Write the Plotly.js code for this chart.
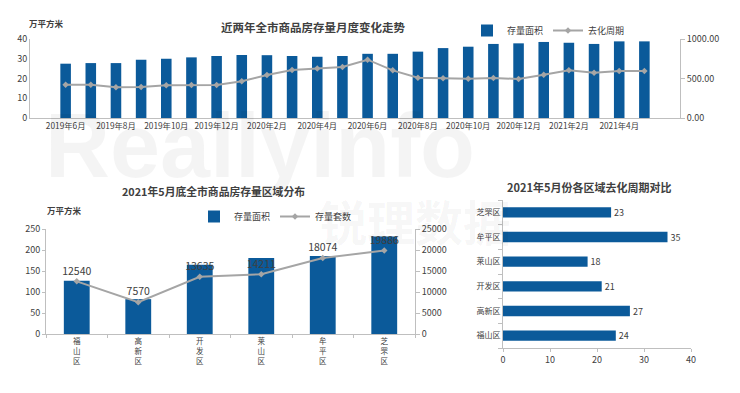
<!DOCTYPE html>
<html><head><meta charset="utf-8">
<script src="https://cdn.plot.ly/plotly-3.0.1.min.js"></script>
<style>html,body{margin:0;padding:0;background:#fff}#c{width:740px;height:393px}</style>
</head><body><div id="c"></div>
<script>
// Top chart: monthly inventory
const months = ['2019年6月','2019年7月','2019年8月','2019年9月','2019年10月','2019年11月','2019年12月',
 '2020年1月','2020年2月','2020年3月','2020年4月','2020年5月','2020年6月','2020年7月','2020年8月','2020年9月',
 '2020年10月','2020年11月','2020年12月','2021年1月','2021年2月','2021年3月','2021年4月','2021年5月'];
const stockArea = [27.5,27.8,27.8,29.5,30.0,30.7,31.4,31.9,31.8,31.4,31.0,31.4,32.5,32.5,33.6,35.4,36.1,37.5,37.8,38.5,38.1,37.5,38.8,38.8];
const destockCycle = [421,421,388,392,413,417,417,464,544,607,628,645,738,603,510,502,498,506,494,548,603,574,595,595];
const monthTicks = ['2019年6月','2019年8月','2019年10月','2019年12月','2020年2月','2020年4月','2020年6月','2020年8月','2020年10月','2020年12月','2021年2月','2021年4月'];

// Bottom-left: district distribution
const districts = ['福山区','高新区','开发区','莱山区','牟平区','芝罘区'];
const districtArea = [127,83,165,181,186,232];
const districtUnits = [12540,7570,13635,14211,18074,19886];

// Bottom-right: destock cycle by district
const cycleDistricts = ['福山区','高新区','开发区','莱山区','牟平区','芝罘区'];
const cycleValues = [24,27,21,18,35,23];

const BLUE = '#0b5a9a';
const GRAY = '#a5a5a5';
const TXT = '#404040';
const AX = '#bfbfbf';
const F = 'Noto Sans CJK SC, Liberation Sans, sans-serif';

const px = v => v/740;
const py = v => 1 - v/393;

const traces = [
 {type:'bar', x:months, y:stockArea, name:'存量面积', marker:{color:BLUE}, xaxis:'x', yaxis:'y', legend:'legend'},
 {type:'scatter', mode:'lines+markers', x:months, y:destockCycle, name:'去化周期', line:{color:GRAY,width:2},
  marker:{color:GRAY,size:5,symbol:'diamond'}, xaxis:'x', yaxis:'y2', legend:'legend'},
 {type:'bar', x:districts, y:districtArea, name:'存量面积', marker:{color:BLUE}, xaxis:'x2', yaxis:'y3', legend:'legend2'},
 {type:'scatter', mode:'lines+markers+text', x:districts, y:districtUnits, name:'存量套数', text:districtUnits.map(String),
  textposition:'top center', textfont:{size:10.5,color:TXT,family:F}, line:{color:GRAY,width:2},
  marker:{color:GRAY,size:5,symbol:'diamond'}, xaxis:'x2', yaxis:'y4', legend:'legend2', cliponaxis:false},
 {type:'bar', orientation:'h', x:cycleValues, y:cycleDistricts, name:'去化周期', marker:{color:BLUE}, text:cycleValues.map(String),
  textposition:'outside', constraintext:'none', textfont:{size:9,color:TXT,family:F}, xaxis:'x3', yaxis:'y5', showlegend:false, cliponaxis:false}
];

const tickF = {size:9,color:TXT,family:F};
const axBase = {showgrid:false, zeroline:false, showline:true, linecolor:AX, linewidth:1, tickfont:tickF, ticks:'outside', ticklen:3, tickcolor:AX, fixedrange:true};

const layout = {
 width:740, height:393, margin:{l:0,r:0,t:0,b:0}, paper_bgcolor:'#fff', plot_bgcolor:'rgba(0,0,0,0)',
 font:{family:F,color:TXT}, bargap:0.58,
 xaxis:Object.assign({}, axBase, {domain:[px(30),px(680)], anchor:'y', type:'category', tickvals:monthTicks, ticktext:monthTicks, ticks:'', tickangle:0, tickfont:{size:8.3,color:TXT,family:F}}),
 yaxis:Object.assign({}, axBase, {domain:[py(118),py(39)], anchor:'x', range:[0,40], dtick:10, ticks:''}),
 yaxis2:Object.assign({}, axBase, {overlaying:'y', side:'right', anchor:'x', range:[0,1000], dtick:500, tickformat:'.2f', ticks:'outside', ticklen:4}),
 xaxis2:Object.assign({}, axBase, {domain:[px(46),px(415)], anchor:'y3', type:'category', tickvals:districts,
   ticktext:districts.map(d=>d.split('').join('<br>')), tickfont:{size:7.5,color:TXT,family:F}, ticks:'outside', tickson:'boundaries', tickangle:0}),
 yaxis3:Object.assign({}, axBase, {domain:[py(334),py(229)], anchor:'x2', range:[0,250], dtick:50, ticks:'outside', ticklen:3}),
 yaxis4:Object.assign({}, axBase, {overlaying:'y3', side:'right', anchor:'x2', range:[0,25000], dtick:5000, tickformat:'d', ticks:'outside', ticklen:4}),
 xaxis3:Object.assign({}, axBase, {domain:[px(503),px(691)], anchor:'y5', range:[0,40], dtick:10, ticks:'outside', ticklen:3}),
 yaxis5:Object.assign({}, axBase, {domain:[py(348),py(200)], anchor:'x3', type:'category', tickfont:{size:8,color:TXT,family:F}, ticks:'outside', tickson:'boundaries', ticklen:4}),
 legend:{orientation:'h', x:px(467), y:py(16), xanchor:'left', yanchor:'top', font:{size:9,color:TXT,family:F}, bgcolor:'rgba(0,0,0,0)', itemwidth:30, tracegroupgap:0},
 legend2:{orientation:'h', x:px(194), y:py(202), xanchor:'left', yanchor:'top', font:{size:9,color:TXT,family:F}, bgcolor:'rgba(0,0,0,0)', itemwidth:30},
 annotations:[
  {text:'<b>Reallyinfo</b>', xref:'paper', yref:'paper', x:px(43), y:py(146), xanchor:'left', yanchor:'middle', showarrow:false, font:{size:90,family:'Liberation Sans, sans-serif',color:'rgba(0,0,0,0.045)'}},
  {text:'<b>锐理数据</b>', xref:'paper', yref:'paper', x:px(415), y:py(220), xanchor:'center', yanchor:'middle', showarrow:false, font:{size:48,family:F,color:'rgba(0,0,0,0.045)'}},
  {text:'<b>近两年全市商品房存量月度变化走势</b>', xref:'paper', yref:'paper', x:px(313), y:py(17), xanchor:'center', showarrow:false, font:{size:11.5,color:TXT,family:F}},
  {text:'<b>万平方米</b>', xref:'paper', yref:'paper', x:px(27), y:py(15), xanchor:'left', showarrow:false, font:{size:8.5,color:TXT,family:F}},
  {text:'<b>2021年5月底全市商品房存量区域分布</b>', xref:'paper', yref:'paper', x:px(213), y:py(191), xanchor:'center', showarrow:false, font:{size:10.8,color:TXT,family:F}},
  {text:'<b>万平方米</b>', xref:'paper', yref:'paper', x:px(45), y:py(210), xanchor:'left', showarrow:false, font:{size:8.5,color:TXT,family:F}},
  {text:'<b>2021年5月份各区域去化周期对比</b>', xref:'paper', yref:'paper', x:px(589), y:py(187), xanchor:'center', showarrow:false, font:{size:11,color:TXT,family:F}}
 ]
};
Plotly.newPlot('c', traces, layout, {displayModeBar:false, staticPlot:true});
</script></body></html>
